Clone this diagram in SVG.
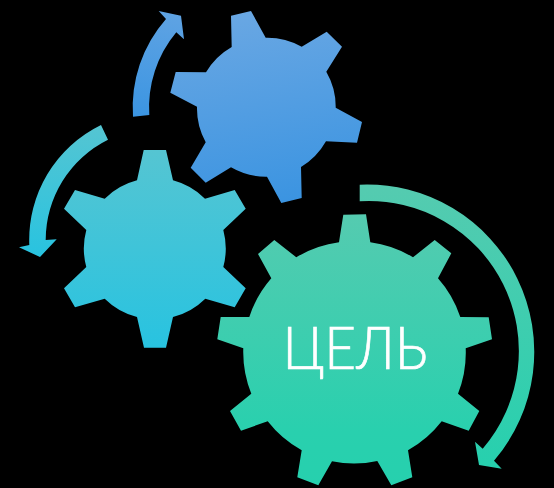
<svg xmlns="http://www.w3.org/2000/svg" width="554" height="488" viewBox="0 0 554 488">
<style>
.label{font-family:"Lato","Liberation Sans",sans-serif;font-weight:300;font-size:60px;fill:#fff;stroke:#fff;stroke-width:.7px}
</style>
<defs>
<linearGradient id="gBlue" gradientUnits="userSpaceOnUse" x1="250" y1="11" x2="283" y2="203"><stop offset="0" stop-color="#69a7e3"/><stop offset="1" stop-color="#3b94e1"/></linearGradient>
<linearGradient id="gTeal" gradientUnits="userSpaceOnUse" x1="155" y1="150" x2="155" y2="348"><stop offset="0" stop-color="#55c5d2"/><stop offset="1" stop-color="#28c3e0"/></linearGradient>
<linearGradient id="gGreen" gradientUnits="userSpaceOnUse" x1="354" y1="214" x2="354" y2="486"><stop offset="0" stop-color="#55cbb0"/><stop offset="0.8" stop-color="#29d0ae"/><stop offset="1" stop-color="#26d0ae"/></linearGradient>
<linearGradient id="aBlue" gradientUnits="userSpaceOnUse" x1="158" y1="11" x2="141" y2="117"><stop offset="0" stop-color="#5fa3e3"/><stop offset="1" stop-color="#3b95e2"/></linearGradient>
<linearGradient id="aTeal" gradientUnits="userSpaceOnUse" x1="60" y1="125" x2="60" y2="257"><stop offset="0" stop-color="#55c5d2"/><stop offset="1" stop-color="#28c3e0"/></linearGradient>
<linearGradient id="aGreen" gradientUnits="userSpaceOnUse" x1="430" y1="185" x2="430" y2="469"><stop offset="0" stop-color="#55cbb0"/><stop offset="1" stop-color="#26d0ae"/></linearGradient>
</defs>
<rect width="554" height="488" fill="#000"/>
<g id="connectors">
<path id="arrow-blue" fill="url(#aBlue)" d="M133 116.700A133.700 133.700 0 0 1 166 19L158.700 11L181 15.700L184 39.300L176.300 32.300A117.300 117.300 0 0 0 149.300 115Z"/>
<path id="arrow-teal" fill="url(#aTeal)" d="M101 125L108 139.700A112 112 0 0 0 45.700 240L56.700 239.300L40 257L19 247.300L29.300 245A128 128 0 0 1 101 125Z"/>
<path id="arrow-green" fill="url(#aGreen)" d="M359.700 184.700A167.300 167.300 0 0 1 494 460.700L501.700 468.700L479 465L475 441.700L482.700 448.700A150 150 0 0 0 359.700 201.300Z"/>
</g>
<g id="gear-blue">
<path fill="url(#gBlue)" d="M231 15.700L251 11L265.700 37.700A70 70 0 0 1 301.700 46.700L326.700 31.700L342 46.700L326.300 71.700A70 70 0 0 1 335.700 107.700L362 122L357 142.700L326 141.300A70 70 0 0 1 301 167L301.700 198L281.300 203L267 176.700A70 70 0 0 1 231 167.300L205.700 182.700L190.700 167.700L205.700 142.300A70 70 0 0 1 197 106.700L170.300 92.700L175.700 72L206 72.300A70 70 0 0 1 231.700 47Z"/>
</g>
<g id="gear-teal">
<path fill="url(#gTeal)" d="M143.700 150L166 150L173 180.300A71 71 0 0 1 205 198.700L234.700 190L245.700 208.700L223.300 230A71 71 0 0 1 223.300 267L245.700 288.300L234.700 307.300L205.300 298.700A71 71 0 0 1 173 317L166 347.700L144 347.700L137 317A71 71 0 0 1 104.700 298.700L75 307.300L64 288.300L86.300 267A71 71 0 0 1 86.300 230L64 208.700L75 190L104.700 198.700A71 71 0 0 1 137 180.300Z"/>
</g>
<g id="gear-green">
<path fill="url(#gGreen)" d="M343.300 214.700L366 214.300L370.300 242.300A111 111 0 0 1 413 257.300L434.700 240L451.300 253.300L438 278.300A111 111 0 0 1 460.300 317L488.700 317.300L492 339.300L465.700 348.300A111 111 0 0 1 458 393.700L479.300 411L468.700 430.700L441.700 421.300A111 111 0 0 1 408 450.300L412.300 477.300L391.300 485.300L377.300 461A111 111 0 0 1 332 461.300L318.300 485.300L297.300 477.300L301.700 450.300A111 111 0 0 1 267.700 421.300L241 430.700L230 411L251.300 393.700A111 111 0 0 1 243.300 348.300L217.300 339.300L220.700 317L249.300 317A111 111 0 0 1 271.300 278.300L258 254L274.300 240L296.300 257.300A111 111 0 0 1 339 242.300Z"/>
<text class="label" x="355" y="369" text-anchor="middle" textLength="145" lengthAdjust="spacingAndGlyphs">ЦЕЛЬ</text>
</g>
</svg>
